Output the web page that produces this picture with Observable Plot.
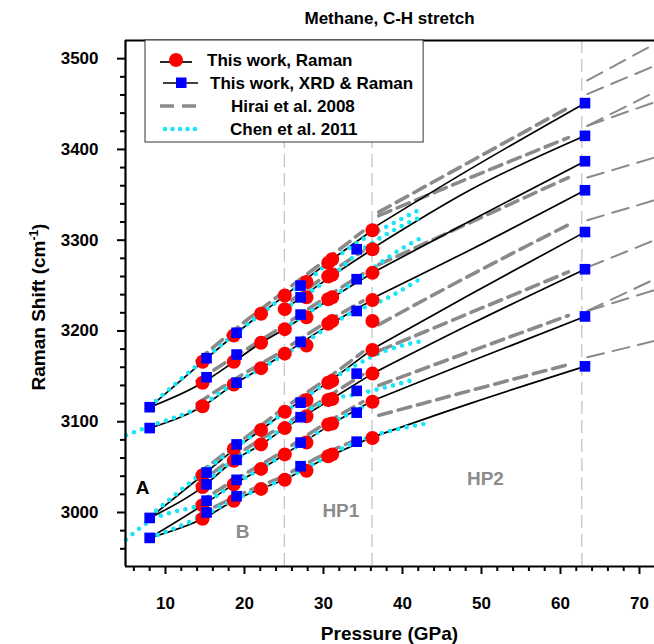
<!DOCTYPE html>
<html><head><meta charset="utf-8">
<script src="https://cdn.jsdelivr.net/npm/d3@7"></script>
<script src="https://cdn.jsdelivr.net/npm/@observablehq/plot@0.6"></script>
<style>body{margin:0;background:#fff;} #chart{width:654px;height:644px;}</style>
</head><body><div id="chart"></div>
<script>
// ---------- data ----------
const phaseBoundaries = [25.05, 36.15, 62.7];

// This work – fitted curves, phase B
const fitP_B = [8, 14.7, 18.65, 22.1, 25.1];
const fitB = [
  [3116, 3166, 3195, 3219, 3239],
  [3116, 3143, 3166, 3187, 3202],
  [3093, 3117, 3141, 3159, 3175],
  [2994, 3041, 3069, 3091, 3111],
  [2994, 3028, 3057, 3075, 3093],
  [2972, 3008, 3031, 3048, 3064],
  [2972, 2993, 3013, 3026, 3036]
];
// phase HP1
const fitP_HP1 = [25.1, 30.8, 36.2];
const fitHP1 = [
  [3239, 3277, 3311],
  [3224, 3259, 3290],
  [3202, 3235, 3264],
  [3175, 3207, 3234],
  [3111, 3145, 3180],
  [3093, 3124, 3153],
  [3064, 3096, 3123],
  [3036, 3062, 3083]
];
// phase HP2
const fitP_HP2 = [36.2, 48.5, 63.1];
const fitHP2 = [
  [3313, 3378, 3451],
  [3291, 3355, 3415],
  [3264, 3321, 3387],
  [3236, 3289, 3355],
  [3180, 3240, 3309],
  [3153, 3207, 3268],
  [3123, 3166, 3216],
  [3083, 3120, 3161]
];

// This work, Raman (red circles)
const ramanP = [14.7, 18.65, 22.1, 25.1, 27.85, 30.6, 31.1, 36.2];
const ramanShift = [
  [3166, 3143, 3117, 3041, 3028, 3008, 2993],
  [3195, 3166, 3141, 3070, 3057, 3031, 3013],
  [3219, 3187, 3159, 3091, 3075, 3048, 3026],
  [3239, 3224, 3202, 3175, 3111, 3093, 3064, 3036],
  [3254, 3237, 3215, 3184, 3124, 3106, 3077, 3046],
  [3275, 3260, 3235, 3208, 3143, 3124, 3097, 3062],
  [3279, 3262, 3237, 3211, 3145, 3125, 3098, 3064],
  [3311, 3290, 3264, 3234, 3211, 3179, 3153, 3122, 3082]
];

// This work, XRD & Raman (blue squares)
const xrdP = [8, 15.2, 19.0, 27.1, 34.2, 63.1];
const xrdShift = [
  [3116, 3093, 2994, 2972],
  [3170, 3149, 3044, 3031, 3013, 3000],
  [3198, 3174, 3143, 3075, 3058, 3036, 3018],
  [3250, 3237, 3218, 3188, 3121, 3105, 3077, 3051],
  [3290, 3257, 3222, 3153, 3134, 3110, 3078],
  [3451, 3415, 3387, 3355, 3309, 3268, 3216, 3161]
];

// Hirai et al. 2008 (grey dashed)
const hiraiP_B = [14, 19, 24.5];
const hiraiB = [
  [3167, 3203, 3240], [3145, 3173, 3203], [3120, 3148, 3176],
  [3042, 3075, 3112], [3030, 3063, 3094], [3010, 3037, 3065], [2996, 3018, 3038]
];
const hiraiP_HP1 = [26, 31, 35];
const hiraiHP1 = [
  [3250, 3283, 3310], [3234, 3265, 3288], [3212, 3241, 3263], [3185, 3213, 3233],
  [3121, 3151, 3177], [3102, 3130, 3152], [3074, 3102, 3122], [3045, 3068, 3083]
];
const hiraiP_HP2 = [37, 47.2, 61];
const hiraiHP2 = [
  [3331, 3380, 3446], [3327, 3364, 3413], [3273, 3314, 3369], [3207, 3255, 3317],
  [3178, 3215, 3265], [3140, 3173, 3217], [3107, 3131, 3163]
];
const hiraiP_ext = [63.4, 71.9];
const hiraiExt = [
  [3476, 3516], [3461, 3492], [3426, 3463], [3426, 3452], [3369, 3391],
  [3322, 3344], [3270, 3300], [3222, 3257], [3222, 3245], [3171, 3189]
];

// Chen et al. 2011 (cyan dotted)
const chenP = [
  [8, 14.4, 18.4, 22, 25, 27.6, 30.7, 34.4, 38.9, 42],
  [25, 30.7, 35, 39.1, 42.7],
  [25, 30.7, 36, 38, 42.7],
  [5, 8, 14.4, 18.4, 22, 25, 27.6, 30.7, 34, 36.8, 42.7],
  [8, 14.4, 18.6, 22, 25, 27.6, 30.7, 34, 37.8, 42.6],
  [14.4, 18.6, 22, 25, 30.7, 34, 37, 41.7],
  [5, 8.5, 11.2, 14.4, 18.6, 22, 25, 27.6, 30.7, 34, 36],
  [8, 14.4, 18.6, 22, 25, 27.6, 30.7, 34, 36.5, 42.9]
];
const chenV = [
  [3117, 3165, 3194, 3218, 3238, 3253, 3275, 3298, 3319, 3333],
  [3224, 3258, 3290, 3312, 3327],
  [3203, 3235, 3267, 3280, 3304],
  [3085, 3095, 3117, 3141, 3158, 3174, 3187, 3205, 3222, 3231, 3260],
  [2996, 3042, 3070, 3091, 3110, 3126, 3145, 3162, 3178, 3189],
  [3029, 3057, 3075, 3094, 3124, 3130, 3136, 3147],
  [2970, 2993, 3001, 3008, 3031, 3048, 3064, 3078, 3097, 3112, 3120],
  [2972, 2995, 3014, 3026, 3037, 3048, 3063, 3077, 3085, 3098]
];

const phaseLabels = ["A", "B", "HP1", "HP2"];
const phaseLabelP = [7.1, 19.75, 32.2, 50.5];
const phaseLabelV = [3027, 2979, 3002, 3037];

const xTicks = [10, 20, 30, 40, 50, 60, 70];
const yTicks = [3000, 3100, 3200, 3300, 3400, 3500];

// ---------- build tables ----------
function curveRows(P, lines, tag) {
  const rows = [];
  lines.forEach((vals, i) => vals.forEach((v, j) => rows.push({p: P[j], v, id: tag + i})));
  return rows;
}
function pointRows(P, groups) {
  const rows = [];
  groups.forEach((vals, i) => vals.forEach(v => rows.push({p: P[i], v})));
  return rows;
}
const fitRows = [...curveRows(fitP_B, fitB, "b"), ...curveRows(fitP_HP1, fitHP1, "h"), ...curveRows(fitP_HP2, fitHP2, "k")];
const hiraiRows = [...curveRows(hiraiP_B, hiraiB, "b"), ...curveRows(hiraiP_HP1, hiraiHP1, "h"), ...curveRows(hiraiP_HP2, hiraiHP2, "k")];
const hiraiExtRows = curveRows(hiraiP_ext, hiraiExt, "e");
const chenRows = [];
chenP.forEach((P, i) => P.forEach((p, j) => chenRows.push({p, v: chenV[i][j], id: "c" + i})));
const ramanRows = pointRows(ramanP, ramanShift);
const xrdRows = pointRows(xrdP, xrdShift);
const labelRows = phaseLabels.map((t, i) => ({t, p: phaseLabelP[i], v: phaseLabelV[i]}));

const X0 = 4.94, X1 = 71.9, Y0 = 2940.5, Y1 = 3520;
const minorX = d3.range(6, 72, 2).filter(d => d % 10 !== 0);
const minorY = d3.range(2960, 3520, 20).filter(d => d % 100 !== 0);
const FONT = "'Liberation Sans', Arial, sans-serif";

const svg = Plot.plot({
  width: 654, height: 644,
  marginLeft: 125, marginRight: 0, marginTop: 40, marginBottom: 78,
  style: {fontFamily: FONT, fontWeight: "bold", fontSize: "17px", background: "white", overflow: "visible", color: "black"},
  x: {domain: [X0, X1], label: null},
  y: {domain: [Y0, Y1], label: null},
  marks: [
    Plot.ruleX(phaseBoundaries, {stroke: "#c6c6c6", strokeWidth: 1.3, strokeDasharray: "13,6"}),
    Plot.line(hiraiExtRows, {x: "p", y: "v", z: "id", stroke: "#8a8a8a", strokeWidth: 2, strokeDasharray: "17,9"}),
    Plot.line(hiraiRows, {x: "p", y: "v", z: "id", stroke: "#8a8a8a", strokeWidth: 3.6, strokeDasharray: "13,7", curve: "monotone-x"}),
    Plot.line(fitRows, {x: "p", y: "v", z: "id", stroke: "black", strokeWidth: 1.7, curve: "monotone-x"}),
    Plot.line(chenRows, {x: "p", y: "v", z: "id", stroke: "#19e6f7", strokeWidth: 4.6, strokeDasharray: "0,8.5", strokeLinecap: "round", curve: "monotone-x"}),
    Plot.dot(ramanRows, {x: "p", y: "v", r: 7, fill: "#ff0000"}),
    Plot.dot(xrdRows, {x: "p", y: "v", r: 6, symbol: "square", fill: "#0000ff"}),
    Plot.text(labelRows, {x: "p", y: "v", text: "t", fontSize: 19, fontWeight: "bold", fill: d => d.t === "A" ? "black" : "#8c8c8c"}),
    Plot.ruleX([X0], {stroke: "black", strokeWidth: 2.2}),
    Plot.ruleY([Y0], {stroke: "black", strokeWidth: 2.2}),
    Plot.ruleY([Y1], {stroke: "black", strokeWidth: 2.2}),
    Plot.axisX({ticks: xTicks, tickFormat: "d", tickSize: 8, tickPadding: 22, strokeWidth: 2, fontSize: 17, fontWeight: "bold", label: null}),
    Plot.axisX({ticks: minorX, tickSize: 5, strokeWidth: 2, text: null, label: null}),
    Plot.axisY({ticks: yTicks, tickFormat: "d", tickSize: 8, tickPadding: 19, strokeWidth: 2, fontSize: 17, fontWeight: "bold", label: null}),
    Plot.axisY({ticks: minorY, tickSize: 5, strokeWidth: 2, text: null, label: null})
  ]
});
document.getElementById("chart").append(svg);

const s = d3.select(svg);
s.append("text").attr("x", 389.5).attr("y", 24).attr("text-anchor", "middle")
  .style("font", "bold 17px " + FONT).attr("fill", "black").text("Methane, C-H stretch");
s.append("text").attr("x", 389.5).attr("y", 640).attr("text-anchor", "middle")
  .style("font", "bold 19px " + FONT).attr("fill", "black").text("Pressure (GPa)");
const yl = s.append("text").attr("transform", "translate(45,307) rotate(-90)").attr("text-anchor", "middle")
  .style("font", "bold 19px " + FONT).attr("fill", "black");
yl.append("tspan").text("Raman Shift (cm");
yl.append("tspan").attr("baseline-shift", "super").style("font-size", "12px").text("-1");
yl.append("tspan").text(")");

// legend
const lg = s.append("g").attr("text-anchor", "start");
const box = lg.append("rect").attr("x", 145).attr("y", 40).attr("height", 102).attr("width", 280)
  .attr("fill", "white").attr("stroke", "#333").attr("stroke-width", 1);
const rows = [
  {y: 60, tx: 207, label: "This work, Raman"},
  {y: 83, tx: 210, label: "This work, XRD & Raman"},
  {y: 106, tx: 231, label: "Hirai et al. 2008"},
  {y: 129, tx: 230, label: "Chen et al. 2011"}
];
lg.append("line").attr("x1", 160).attr("x2", 192).attr("y1", 62).attr("y2", 62).attr("stroke", "black").attr("stroke-width", 1.7);
lg.append("circle").attr("cx", 176).attr("cy", 60).attr("r", 7).attr("fill", "#ff0000");
lg.append("line").attr("x1", 163).attr("x2", 198).attr("y1", 83).attr("y2", 83).attr("stroke", "black").attr("stroke-width", 1.7);
lg.append("rect").attr("x", 176).attr("y", 77.5).attr("width", 10.5).attr("height", 10.5).attr("fill", "#0000ff");
lg.append("line").attr("x1", 160).attr("x2", 197).attr("y1", 106).attr("y2", 106).attr("stroke", "#8a8a8a").attr("stroke-width", 3.6).attr("stroke-dasharray", "14,8");
lg.append("line").attr("x1", 165).attr("x2", 196).attr("y1", 129).attr("y2", 129).attr("stroke", "#19e6f7").attr("stroke-width", 4.6).attr("stroke-dasharray", "0,7.5").attr("stroke-linecap", "round");
let maxR = 0;
rows.forEach(r => {
  const t = lg.append("text").attr("x", r.tx).attr("y", r.y).attr("dy", "0.35em").attr("text-anchor", "start")
    .style("font", "bold 17px " + FONT).attr("fill", "black").text(r.label);
  maxR = Math.max(maxR, r.tx + t.node().getComputedTextLength());
});
box.attr("width", maxR + 10 - 145);
</script>
</body></html>
